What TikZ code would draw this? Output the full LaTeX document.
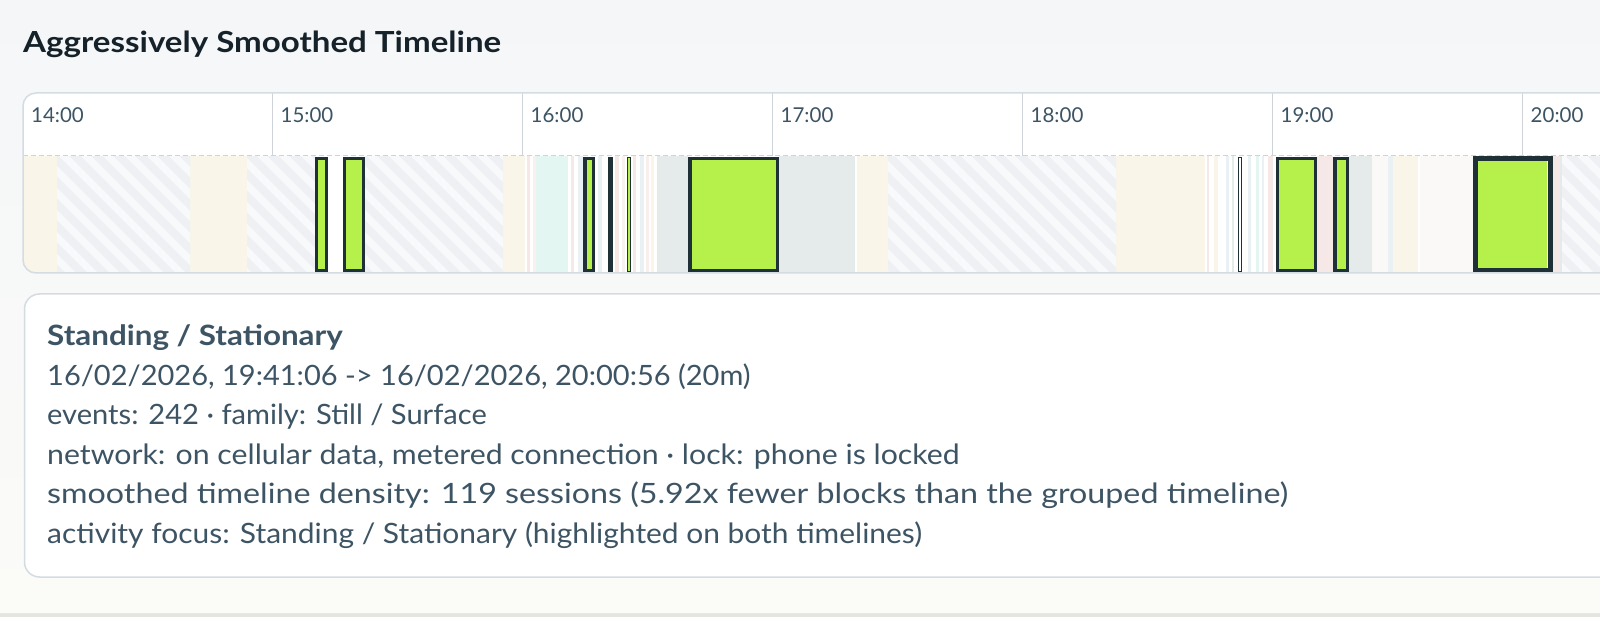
\documentclass[tikz,border=0pt]{standalone}
\usepackage{graphicx}
\usepackage{fontspec}
\setmainfont{Lato}
\newfontfamily\infofont{Lato}[FakeStretch=1.08]
\newfontfamily\boldinfofont{Lato}[FakeStretch=1.12]
\newfontfamily\titlefont{Lato}[FakeStretch=1.14]
\definecolor{pagebot}{HTML}{E4E5DF}
\definecolor{pagetop}{HTML}{F4F6F8}
\definecolor{pagelow}{HTML}{FBFBF8}
\definecolor{bordc}{HTML}{D3DCE1}
\definecolor{tickc}{HTML}{CDD3D8}
\definecolor{slate}{HTML}{3D5464}
\definecolor{titlec}{HTML}{15222A}
\definecolor{beige}{HTML}{F9F5E8}
\definecolor{hatchbg}{HTML}{F8F9FB}
\definecolor{hatchln}{HTML}{EEF0F3}
\definecolor{mint}{HTML}{E4F6F2}
\definecolor{greyb}{HTML}{E5EAEB}
\definecolor{pinkb}{HTML}{F5E8E6}
\definecolor{pinkw}{HTML}{FBF8F8}
\definecolor{lblue}{HTML}{EAF1F5}
\definecolor{limeg}{HTML}{B5F04B}
\definecolor{darkb}{HTML}{1F3036}
\newcommand\tlband[3]{\fill[#3] (#1,156) rectangle (#2,273);}
\newcommand\gblk[2]{\fill[limeg] (#1,156.7) rectangle (#2,272.7);
  \draw[darkb,line width=3.2pt] ($(#1,156.7)+(1.6,1.6)$) rectangle ($(#2,272.7)+(-1.6,-1.6)$);}
\usetikzlibrary{calc}
\begin{document}
\begin{tikzpicture}[x=1pt,y=-1pt,
  hour/.style={font=\fontsize{20.5}{24}\selectfont, text=slate, anchor=base west, inner sep=0pt},
  info/.style={font=\infofont\fontsize{28}{32}\selectfont, text=slate, anchor=base west, inner sep=0pt}]
\useasboundingbox (0,0) rectangle (1600,617);
% page
\fill[pagebot] (0,0) rectangle (1600,617);
\shade[top color=pagetop, bottom color=pagelow, rounded corners=8pt] (-20,-20) rectangle (1620,613);
% title
\node[anchor=base west, inner sep=0pt, text=titlec, font=\titlefont\fontsize{29}{32}\selectfont\bfseries] (title) at (23,53) {Aggressively Smoothed Timeline};
% timeline box
\fill[white, rounded corners=13pt] (23,93) rectangle (1640,273);
\begin{scope}
\clip[rounded corners=13pt] (23,93) rectangle (1640,273);
\tlband{23}{57}{beige}
\tlband{190}{247}{beige}
\tlband{503}{525}{beige}
\tlband{525}{536}{white}
\fill[pinkb] (527,156) rectangle (530,273);
\fill[pinkb!60] (533,156) rectangle (535.5,273);
\tlband{536}{568}{mint}
\tlband{568}{583.3}{white}
\fill[pinkb] (571,156) rectangle (574,273);
\fill[lblue] (578,156) rectangle (583.3,273);
\tlband{595}{608.3}{white}
\fill[lblue] (598,156) rectangle (602,273);
\tlband{613.3}{626.7}{white}
\fill[pinkb] (615,156) rectangle (619,273);
\fill[pinkb!60] (622,156) rectangle (625,273);
\tlband{631}{657}{white}
\fill[pinkb] (633,156) rectangle (636,273);
\fill[lblue] (640,156) rectangle (644,273);
\fill[pinkb!70] (646,156) rectangle (649,273);
\fill[beige] (651,156) rectangle (654,273);
\tlband{657}{688.3}{greyb}
\tlband{779.3}{855}{greyb}
\tlband{857}{888}{beige}
\tlband{1116}{1205}{beige}
\tlband{1205}{1237.7}{white}
\fill[pinkb] (1207,156) rectangle (1209,273);
\fill[beige] (1214,156) rectangle (1218,273);
\fill[lblue] (1226,156) rectangle (1229,273);
\fill[greyb] (1232,156) rectangle (1234,273);
\tlband{1241.7}{1276}{white}
\fill[lblue] (1248,156) rectangle (1251,273);
\fill[mint] (1256,156) rectangle (1259,273);
\fill[lblue] (1262,156) rectangle (1264,273);
\fill[pinkb] (1268,156) rectangle (1273,273);
\tlband{1316.7}{1333.3}{pinkb}
\tlband{1349}{1372}{greyb}
\tlband{1372}{1388}{pinkw}
\tlband{1388}{1393}{lblue}
\tlband{1393}{1418}{beige}
\tlband{1420}{1473.3}{pinkw}
\tlband{1553.3}{1560}{pinkb}
\tlband{1560}{1562}{greyb}
% hatched regions
\begin{scope}
\clip (57,156) rectangle (190,273) (247,156) rectangle (315,273) (365,156) rectangle (503,273)
  (888,156) rectangle (1116,273) (1562,156) rectangle (1640,273);
\fill[hatchbg] (0,156) rectangle (1640,273);
\foreach \x in {-200,-178,...,1700} {\draw[hatchln, line width=7.8pt] (\x,145) -- ++(140,140);}
\end{scope}
% blocks
\gblk{315}{327.7}
\gblk{342.7}{365}
\gblk{583.3}{595}
\fill[darkb] (608.3,156.7) rectangle (613.3,272.7);
\fill[darkb] (626.7,156.7) rectangle (631,272.7);
\fill[limeg] (628.1,158.5) rectangle (629.6,271);
\gblk{688.3}{779.3}
\fill[darkb] (1237.7,156.7) rectangle (1241.7,272.7);
\fill[white] (1238.8,158) rectangle (1240.6,271.4);
\gblk{1276}{1316.7}
\gblk{1333.3}{1349}
\fill[limeg] (1473.3,156) rectangle (1553.3,273);
\fill[white] (1546.5,158) rectangle (1548.2,271);
\draw[darkb,line width=5pt] (1475.8,158.5) rectangle (1550.8,270.5);
\end{scope}
% header dividers
\draw[tickc, line width=1pt, dash pattern=on 5pt off 3pt] (23,156) -- (1600,156);
\foreach \h in {1,...,6} {\draw[tickc, line width=1.5pt] (22.5+250*\h,93) -- (22.5+250*\h,156);}
\draw[bordc, line width=1.5pt, rounded corners=13pt] (23,93) rectangle (1640,273);
% hour labels
\node[hour] (h14) at (31,123) {14:00};
\node[hour] (h15) at (280.5,123) {15:00};
\node[hour] (h16) at (530.5,123) {16:00};
\node[hour] (h17) at (780.5,123) {17:00};
\node[hour] (h18) at (1030.5,123) {18:00};
\node[hour] (h19) at (1280.5,123) {19:00};
\node[hour] (h20) at (1530.5,123) {20:00};
% detail card
\draw[bordc, fill=white, line width=1.5pt, rounded corners=15pt] (24.5,294) rectangle (1640,577);
\node[info, font=\boldinfofont\fontsize{28}{32}\selectfont\bfseries] (l1) at (47,345) {Standing / Stationary};
\node[info] (l2) at (47,385) {\scalebox{0.96}[1]{16/02/2026, 19:41:06 -> 16/02/2026, 20:00:56 (20m)}};
\node[info] (l3) at (47,424) {\scalebox{0.962}[1]{events: 242 · family: Still / Surface}};
\node[info] (l4) at (47,464) {network: on cellular data, metered connection · lock: phone is locked};
\node[info] (l5) at (47,503) {\scalebox{1.066}[1]{smoothed timeline density: 119 sessions (5.92x fewer blocks than the grouped timeline)}};
\node[info] (l6) at (47,543) {\scalebox{0.99}[1]{activity focus: Standing / Stationary (highlighted on both timelines)}};
\end{tikzpicture}
\end{document}
